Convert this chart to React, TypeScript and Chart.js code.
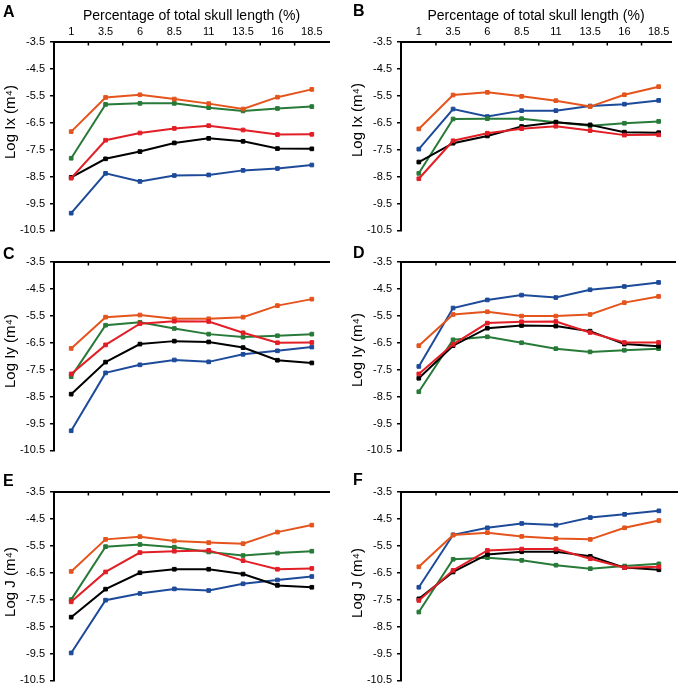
import React, { useEffect, useRef } from 'react';
import { Chart, registerables } from 'chart.js';

Chart.register(...registerables);

const FONT = '"Liberation Sans", Arial, Helvetica, sans-serif';

// Categories: percentage of total skull length (%)
const positions = [1, 3.5, 6, 8.5, 11, 13.5, 16, 18.5];
const xTickLabels = ['1', '3.5', '6', '8.5', '11', '13.5', '16', '18.5'];
const yTicks = [-10.5, -9.5, -8.5, -7.5, -6.5, -5.5, -4.5, -3.5];
const xTitle = 'Percentage of total skull length (%)';

// Panel A – Log Ix
const aOrange = [-6.83, -5.56, -5.46, -5.62, -5.79, -5.99, -5.55, -5.26];
const aGreen = [-7.82, -5.82, -5.78, -5.78, -5.94, -6.06, -5.97, -5.9];
const aRed = [-8.56, -7.15, -6.88, -6.71, -6.61, -6.77, -6.94, -6.93];
const aBlack = [-8.53, -7.84, -7.57, -7.25, -7.08, -7.19, -7.46, -7.47];
const aBlue = [-9.86, -8.38, -8.68, -8.46, -8.44, -8.27, -8.2, -8.07];

// Panel B – Log Ix
const bOrange = [-6.73, -5.47, -5.37, -5.52, -5.68, -5.9, -5.46, -5.16];
const bGreen = [-8.38, -6.36, -6.35, -6.35, -6.48, -6.61, -6.52, -6.45];
const bRed = [-8.58, -7.17, -6.89, -6.72, -6.63, -6.79, -6.96, -6.95];
const bBlack = [-7.96, -7.26, -6.99, -6.64, -6.48, -6.58, -6.85, -6.87];
const bBlue = [-7.48, -5.99, -6.27, -6.05, -6.05, -5.88, -5.81, -5.67];

// Panel C – Log Iy
const cOrange = [-6.71, -5.55, -5.47, -5.61, -5.61, -5.55, -5.12, -4.88];
const cGreen = [-7.76, -5.85, -5.74, -5.97, -6.18, -6.29, -6.24, -6.18];
const cRed = [-7.66, -6.58, -5.79, -5.7, -5.71, -6.13, -6.5, -6.49];
const cBlack = [-8.41, -7.22, -6.55, -6.44, -6.47, -6.68, -7.15, -7.25];
const cBlue = [-9.77, -7.62, -7.32, -7.14, -7.21, -6.93, -6.8, -6.66];

// Panel D – Log Iy
const dOrange = [-6.61, -5.45, -5.35, -5.51, -5.51, -5.45, -5.01, -4.78];
const dGreen = [-8.32, -6.39, -6.28, -6.5, -6.72, -6.84, -6.78, -6.72];
const dRed = [-7.66, -6.56, -5.77, -5.72, -5.71, -6.12, -6.49, -6.49];
const dBlack = [-7.82, -6.61, -5.96, -5.86, -5.88, -6.07, -6.55, -6.63];
const dBlue = [-7.38, -5.21, -4.91, -4.73, -4.82, -4.53, -4.41, -4.26];

// Panel E – Log J
const eOrange = [-6.45, -5.26, -5.16, -5.32, -5.38, -5.42, -4.99, -4.73];
const eGreen = [-7.5, -5.53, -5.45, -5.55, -5.73, -5.86, -5.77, -5.7];
const eRed = [-7.58, -6.47, -5.75, -5.7, -5.67, -6.05, -6.37, -6.34];
const eBlack = [-8.15, -7.11, -6.5, -6.37, -6.37, -6.55, -6.97, -7.04];
const eBlue = [-9.48, -7.52, -7.27, -7.1, -7.16, -6.91, -6.77, -6.64];

// Panel F – Log J
const fOrange = [-6.28, -5.1, -5.01, -5.15, -5.23, -5.26, -4.83, -4.56];
const fGreen = [-7.96, -6.0, -5.94, -6.04, -6.22, -6.35, -6.25, -6.17];
const fRed = [-7.53, -6.41, -5.67, -5.62, -5.62, -5.98, -6.31, -6.28];
const fBlack = [-7.47, -6.47, -5.82, -5.72, -5.72, -5.89, -6.31, -6.39];
const fBlue = [-7.04, -5.09, -4.83, -4.67, -4.73, -4.45, -4.33, -4.2];

const COLORS = {
  red: '#e21e26',
  black: '#000000',
  orange: '#e4541c',
  green: '#287a38',
  blue: '#1d4b9a',
};

type PanelSeries = { red: number[]; black: number[]; orange: number[]; green: number[]; blue: number[] };

const panelSeries: PanelSeries[] = [
  { red: aRed, black: aBlack, orange: aOrange, green: aGreen, blue: aBlue },
  { red: bRed, black: bBlack, orange: bOrange, green: bGreen, blue: bBlue },
  { red: cRed, black: cBlack, orange: cOrange, green: cGreen, blue: cBlue },
  { red: dRed, black: dBlack, orange: dOrange, green: dGreen, blue: dBlue },
  { red: eRed, black: eBlack, orange: eOrange, green: eGreen, blue: eBlue },
  { red: fRed, black: fBlack, orange: fOrange, green: fGreen, blue: fBlue },
];

const panelLetters = ['A', 'B', 'C', 'D', 'E', 'F'];
const panelYTitles = ['Log Ix (m⁴)', 'Log Ix (m⁴)', 'Log Iy (m⁴)', 'Log Iy (m⁴)', 'Log J (m⁴)', 'Log J (m⁴)'];

// Layout (page pixels of plot area)
const AXW = 54; // y-axis box width
const AXH = 42; // top x-axis box height
const PADB = 10;
const PADR = 2;

const layoutBoxes = [
  { left: 54, right: 332, top: 42, bottom: 232, xMin: -0.25, xMax: 19.75, labels: true, letterY: 12.5, yTitleY: 122 },
  { left: 401, right: 674, top: 42, bottom: 232, xMin: -0.3, xMax: 19.4, labels: true, letterY: 11.5, yTitleY: 120 },
  { left: 54, right: 332, top: 262, bottom: 452, xMin: -0.25, xMax: 19.75, labels: false, letterY: 255, yTitleY: 351 },
  { left: 401, right: 678, top: 262, bottom: 452, xMin: -0.3, xMax: 19.7, labels: false, letterY: 254, yTitleY: 350 },
  { left: 54, right: 332, top: 492, bottom: 682, xMin: -0.25, xMax: 19.75, labels: false, letterY: 482, yTitleY: 582 },
  { left: 401, right: 680, top: 492, bottom: 682, xMin: -0.3, xMax: 19.82, labels: false, letterY: 481, yTitleY: 583 },
];

function canvasRect(i: number) {
  const b = layoutBoxes[i];
  return {
    x: b.left - AXW,
    y: b.top - AXH,
    w: b.right - b.left + AXW + PADR,
    h: b.bottom - b.top + AXH + PADB,
  };
}

function makeChart(canvas: HTMLCanvasElement, i: number) {
  const b = layoutBoxes[i];
  const r = canvasRect(i);
  const s = panelSeries[i];
  const order: (keyof PanelSeries)[] = ['red', 'black', 'orange', 'green', 'blue'];
  const datasets = order.map((k) => ({
    label: k,
    data: positions.map((x, j) => ({ x, y: s[k][j] })),
    borderColor: COLORS[k],
    backgroundColor: COLORS[k],
    borderWidth: 2,
    pointStyle: 'rect' as const,
    pointRadius: 2.6,
    pointBorderWidth: 1,
    pointBorderColor: COLORS[k],
    pointBackgroundColor: COLORS[k],
    tension: 0,
    fill: false,
  }));

  const decorPlugin = {
    id: 'panelDecor' + i,
    afterDraw(chart: any) {
      const ctx = chart.ctx;
      const xs = chart.scales.x;
      const area = chart.chartArea;
      ctx.save();
      // inward tick marks on top axis, between categories
      ctx.strokeStyle = '#000';
      ctx.lineWidth = 1.5;
      for (let j = 0; j < positions.length - 1; j++) {
        const px = xs.getPixelForValue((positions[j] + positions[j + 1]) / 2);
        ctx.beginPath();
        ctx.moveTo(px, area.top);
        ctx.lineTo(px, area.top + 3.5);
        ctx.stroke();
      }
      // panel letter
      ctx.fillStyle = '#000';
      ctx.font = 'bold 16px ' + FONT;
      ctx.textAlign = 'left';
      ctx.textBaseline = 'middle';
      const lx = i % 2 === 0 ? 3 : 353;
      ctx.fillText(panelLetters[i], lx - r.x, b.letterY - r.y);
      // y-axis title
      ctx.font = '15px ' + FONT;
      ctx.textAlign = 'center';
      ctx.textBaseline = 'middle';
      ctx.translate(11, b.yTitleY - r.y);
      ctx.rotate(-Math.PI / 2);
      ctx.fillText(panelYTitles[i], 0, 0);
      ctx.restore();
    },
  };

  return new Chart(canvas, {
    type: 'line',
    data: { datasets },
    plugins: [decorPlugin],
    options: {
      animation: false,
      responsive: false,
      maintainAspectRatio: false,
      devicePixelRatio: 1,
      layout: { padding: { left: 0, top: 0, right: PADR, bottom: PADB } },
      plugins: { legend: { display: false }, tooltip: { enabled: false }, title: { display: false } },
      scales: {
        x: {
          type: 'linear',
          position: 'top',
          min: b.xMin,
          max: b.xMax,
          afterBuildTicks: (scale: any) => {
            scale.ticks = positions.map((v) => ({ value: v }));
          },
          afterFit: (scale: any) => {
            scale.height = AXH;
          },
          grid: { display: false, drawTicks: false, tickLength: 0 },
          border: { display: true, color: '#000', width: 2 },
          ticks: {
            display: b.labels,
            autoSkip: false,
            maxRotation: 0,
            minRotation: 0,
            padding: 3,
            color: '#000',
            font: { family: FONT, size: 11 },
            callback: (_v: any, idx: number) => xTickLabels[idx],
          },
          title: {
            display: b.labels,
            text: xTitle,
            color: '#000',
            font: { family: FONT, size: 14 },
            padding: { top: 7.5, bottom: 0 },
          },
        },
        y: {
          type: 'linear',
          position: 'left',
          min: -10.5,
          max: -3.5,
          afterBuildTicks: (scale: any) => {
            scale.ticks = yTicks.map((v) => ({ value: v }));
          },
          afterFit: (scale: any) => {
            scale.width = AXW;
          },
          grid: {
            display: true,
            drawOnChartArea: false,
            drawTicks: true,
            tickLength: 4,
            color: '#000',
            lineWidth: 1.5,
          },
          border: { display: true, color: '#000', width: 2 },
          ticks: {
            padding: 5,
            color: '#000',
            font: { family: FONT, size: 11 },
            callback: (v: any) => String(v),
          },
          title: { display: false },
        },
      },
    } as any,
  });
}

export default function App() {
  const refs = useRef<(HTMLCanvasElement | null)[]>([]);

  useEffect(() => {
    const charts: Chart[] = [];
    refs.current.forEach((c, i) => {
      if (c) charts.push(makeChart(c, i));
    });
    return () => charts.forEach((ch) => ch.destroy());
  }, []);

  return (
    <div style={{ position: 'absolute', left: 0, top: 0, width: 683, height: 690, background: '#fff', overflow: 'hidden' }}>
      {layoutBoxes.map((_, i) => {
        const r = canvasRect(i);
        return (
          <canvas
            key={i}
            ref={(el) => {
              refs.current[i] = el;
            }}
            width={r.w}
            height={r.h}
            style={{ position: 'absolute', left: r.x, top: r.y, width: r.w, height: r.h }}
          />
        );
      })}
    </div>
  );
}
